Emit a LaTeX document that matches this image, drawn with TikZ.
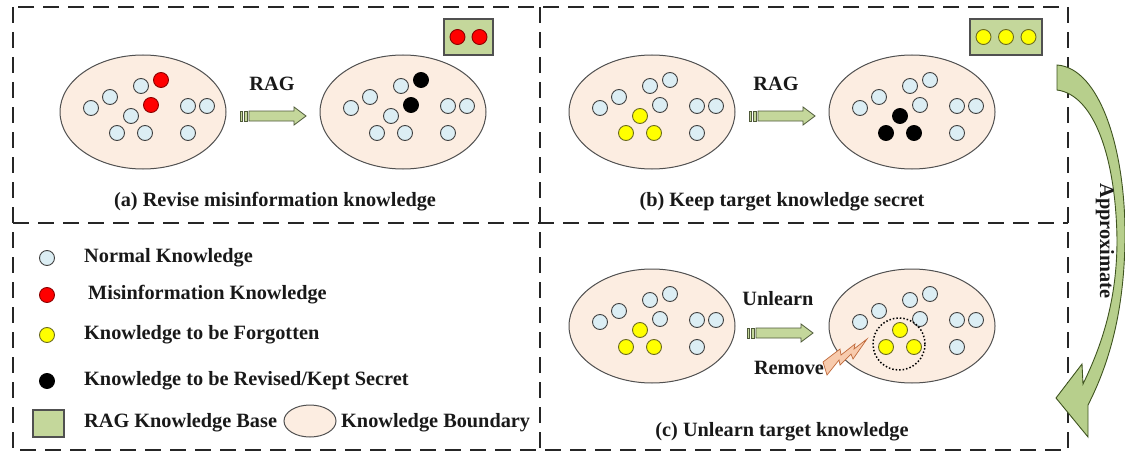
\documentclass[tikz,border=0pt]{standalone}
\usepackage{fontspec}
\setmainfont{Liberation Serif}
\usetikzlibrary{shapes.geometric,calc}
\definecolor{kbfill}{HTML}{FCEDE1}
\definecolor{kbline}{HTML}{505050}
\definecolor{nkf}{HTML}{DCEEF4}
\definecolor{nkd}{HTML}{404040}
\definecolor{redf}{HTML}{FF0000}
\definecolor{redd}{HTML}{8B0000}
\definecolor{yelf}{HTML}{FFFF00}
\definecolor{yeld}{HTML}{6B6B20}
\definecolor{blkf}{HTML}{000000}
\definecolor{blkd}{HTML}{000000}
\definecolor{boxfill}{HTML}{C4D79B}
\definecolor{boxline}{HTML}{505050}
\definecolor{arfill}{HTML}{C4D79B}
\definecolor{arline}{HTML}{4F5A3A}
\definecolor{apfill}{HTML}{B7CF8C}
\definecolor{apline}{HTML}{3F5420}
\definecolor{boltf}{HTML}{F8CBAD}
\definecolor{boltd}{HTML}{C0693A}
\newcommand{\KB}[7]{%
  \node[kb] (#1) at (#2,#3) {};
  \foreach \i/\dx/\dy/\f/\d in {1/-52/-4/nkf/nkd, 2/-33/-15/nkf/nkd, 3/-2/-26/nkf/nkd, 4/18/-32/#4/#5, 5/8/-7/#4/#5, 6/-12/4/#6/#7, 7/-26/21/#6/#7, 8/2/21/#6/#7, 9/45/-6/nkf/nkd, 10/64/-6/nkf/nkd, 11/45/21/nkf/nkd}
    {\node[dot, fill=\f, draw=\d] (#1-\i) at ($(#1)+(\dx,\dy)$) {};}
}
\newcommand{\BArrow}[2]{%
  \draw[barrow] ($(#1)+(9,-5)$) -- ($(#2)+(-12,-5)$) -- ($(#2)+(-12,-9)$) -- (#2) -- ($(#2)+(-12,9)$) -- ($(#2)+(-12,5)$) -- ($(#1)+(9,5)$) -- cycle;
  \draw[barrow] ($(#1)+(0,-5)$) rectangle ($(#1)+(2.5,5)$);
  \draw[barrow] ($(#1)+(4,-5)$) rectangle ($(#1)+(7.5,5)$);
}
\begin{document}
\begin{tikzpicture}[x=1pt,y=-1pt,
  kb/.style={ellipse, draw=kbline, fill=kbfill, line width=1pt, minimum width=166pt, minimum height=114pt, inner sep=0pt},
  dot/.style={circle, minimum size=15pt, inner sep=0pt, line width=0.9pt},
  lbl/.style={font=\fontsize{20.3}{24}\selectfont\bfseries, text=black!90, inner sep=0pt},
  rbox/.style={rectangle, draw=boxline, fill=boxfill, line width=1.2pt, inner sep=0pt},
  barrow/.style={draw=arline, fill=arfill, line width=0.8pt},
  frame/.style={draw=black!85, line width=1.8pt, dash pattern=on 16pt off 9pt}]
\useasboundingbox (0,0) rectangle (1125,452);

% frames
\draw[frame] (13,7) rectangle (1068,450);
\draw[frame] (13,223) -- (1068,223);
\draw[frame] (540,7) -- (540,450);

% panel (a)
\KB{aL}{143}{112}{redf}{redd}{nkf}{nkd}
\KB{aR}{403}{112}{blkf}{blkd}{nkf}{nkd}
\node[lbl] (aRAG) at (272,84) {RAG};
\coordinate (aS) at (240,116);
\coordinate (aE) at (306,116);
\BArrow{aS}{aE}
\node[rbox, minimum width=49pt, minimum height=36pt] (aBox) at (468.5,37) {};
\node[dot, fill=redf, draw=redd] (aBox-1) at (457.5,37) {};
\node[dot, fill=redf, draw=redd] (aBox-2) at (479.5,37) {};
\node[lbl] (aCap) at (275,202) {(a) Revise misinformation knowledge};

% panel (b)
\KB{bL}{652}{112}{nkf}{nkd}{yelf}{yeld}
\KB{bR}{912}{112}{nkf}{nkd}{blkf}{blkd}
\node[lbl] (bRAG) at (776,84) {RAG};
\coordinate (bS) at (749,116);
\coordinate (bE) at (815,116);
\BArrow{bS}{bE}
\node[rbox, minimum width=72pt, minimum height=36pt] (bBox) at (1006,37) {};
\node[dot, fill=yelf, draw=yeld] (bBox-1) at (983.5,37) {};
\node[dot, fill=yelf, draw=yeld] (bBox-2) at (1006,37) {};
\node[dot, fill=yelf, draw=yeld] (bBox-3) at (1028.5,37) {};
\node[lbl] (bCap) at (782,202) {(b) Keep target knowledge secret};

% panel (c)
\KB{cL}{652}{326}{nkf}{nkd}{yelf}{yeld}
\KB{cR}{912}{326}{nkf}{nkd}{yelf}{yeld}
\node[lbl] (cUn) at (778,299) {Unlearn};
\coordinate (cS) at (747,333);
\coordinate (cE) at (813,333);
\BArrow{cS}{cE}
\node[circle, draw=black, dotted, line width=1.5pt, minimum size=52pt, inner sep=0pt] (cRem) at (899,344) {};
\node[lbl] (cRemove) at (789,368) {Remove};
\draw[draw=boltd, fill=boltf, line width=0.7pt]
  (823,362) -- (840,349) -- (841,355) -- (855,344) -- (854,349) -- (867,339)
  -- (853,359) -- (851,354) -- (840,365) -- (839,360) -- (827,375) -- cycle;
\node[lbl] (cCap) at (782,432) {(c) Unlearn target knowledge};

% approximate arrow
\draw[draw=apline, fill=apfill, line width=0.9pt]
  (1057,65) .. controls (1100,68) and (1126,150) .. (1125,240)
  .. controls (1124,310) and (1110,362) .. (1088,405)
  -- (1088,437) -- (1056,398) -- (1082,364) -- (1083,384)
  .. controls (1102,345) and (1117,300) .. (1117,240)
  .. controls (1116,160) and (1095,95) .. (1057,90) -- cycle;
\node[lbl, rotate=-90] (apx) at (1105,241) {Approximate};

% legend
\node[dot, fill=nkf, draw=nkd] (l1) at (47,258) {};
\node[lbl, anchor=west] (l1t) at (84,258) {Normal Knowledge};
\node[dot, fill=redf, draw=redd] (l2) at (47,295) {};
\node[lbl, anchor=west] (l2t) at (88,295) {Misinformation Knowledge};
\node[dot, fill=yelf, draw=yeld] (l3) at (47,335) {};
\node[lbl, anchor=west] (l3t) at (84,335) {Knowledge to be Forgotten};
\node[dot, fill=blkf, draw=blkd] (l4) at (47,381) {};
\node[lbl, anchor=west] (l4t) at (84,381) {Knowledge to be Revised/Kept Secret};
\node[rbox, minimum width=31pt, minimum height=27pt] (l5) at (48.5,423.5) {};
\node[lbl, anchor=west] (l5t) at (84,423) {RAG Knowledge Base};
\node[ellipse, draw=kbline, fill=kbfill, line width=1pt, minimum width=52pt, minimum height=32pt, inner sep=0pt] (l6) at (310,421) {};
\node[lbl, anchor=west] (l6t) at (341,423) {Knowledge Boundary};
\end{tikzpicture}
\end{document}
